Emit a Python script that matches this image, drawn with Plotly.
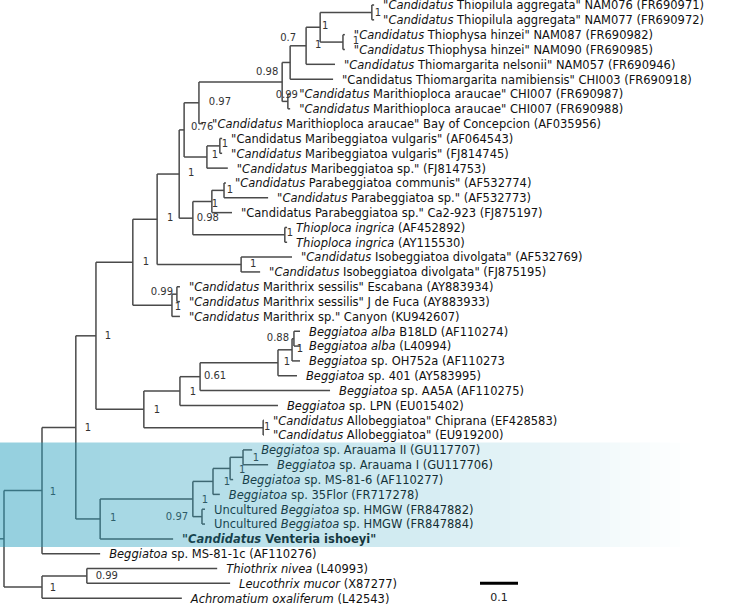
import plotly.graph_objects as go

# ---- tip labels, top to bottom ----
TIP_LABELS = [
    '"<i>Candidatus</i> Thiopilula aggregata" NAM076 (FR690971)',
    '"<i>Candidatus</i> Thiopilula aggregata" NAM077 (FR690972)',
    '"<i>Candidatus</i> Thiophysa hinzei" NAM087 (FR690982)',
    '"<i>Candidatus</i> Thiophysa hinzei" NAM090 (FR690985)',
    '"<i>Candidatus</i> Thiomargarita nelsonii" NAM057 (FR690946)',
    '"Candidatus Thiomargarita namibiensis" CHI003 (FR690918)',
    '"<i>Candidatus</i> Marithioploca araucae" CHI007 (FR690987)',
    '"<i>Candidatus</i> Marithioploca araucae" CHI007 (FR690988)',
    '"<i>Candidatus</i> Marithioploca araucae" Bay of Concepcion (AF035956)',
    '"Candidatus Maribeggiatoa vulgaris" (AF064543)',
    '"<i>Candidatus</i> Maribeggiatoa vulgaris" (FJ814745)',
    '"<i>Candidatus</i> Maribeggiatoa sp." (FJ814753)',
    '"<i>Candidatus</i> Parabeggiatoa communis" (AF532774)',
    '"<i>Candidatus</i> Parabeggiatoa sp." (AF532773)',
    '"Candidatus Parabeggiatoa sp." Ca2-923 (FJ875197)',
    '<i>Thioploca ingrica</i> (AF452892)',
    '<i>Thioploca ingrica</i> (AY115530)',
    '"<i>Candidatus</i> Isobeggiatoa divolgata" (AF532769)',
    '"<i>Candidatus</i> Isobeggiatoa divolgata" (FJ875195)',
    '"<i>Candidatus</i> Marithrix sessilis" Escabana (AY883934)',
    '"<i>Candidatus</i> Marithrix sessilis" J de Fuca (AY883933)',
    '"<i>Candidatus</i> Marithrix sp." Canyon (KU942607)',
    '<i>Beggiatoa alba</i> B18LD (AF110274)',
    '<i>Beggiatoa alba</i> (L40994)',
    '<i>Beggiatoa</i> sp. OH752a (AF110273',
    '<i>Beggiatoa</i> sp. 401 (AY583995)',
    '<i>Beggiatoa</i> sp. AA5A (AF110275)',
    '<i>Beggiatoa</i> sp. LPN (EU015402)',
    '"<i>Candidatus</i> Allobeggiatoa" Chiprana (EF428583)',
    '"<i>Candidatus</i> Allobeggiatoa" (EU919200)',
    '<i>Beggiatoa</i> sp. Arauama II (GU117707)',
    '<i>Beggiatoa</i> sp. Arauama I (GU117706)',
    '<i>Beggiatoa</i> sp. MS-81-6 (AF110277)',
    '<i>Beggiatoa</i> sp. 35Flor (FR717278)',
    'Uncultured <i>Beggiatoa</i> sp. HMGW (FR847882)',
    'Uncultured <i>Beggiatoa</i> sp. HMGW (FR847884)',
    '<b>"<i>Candidatus</i> Venteria ishoeyi"</b>',
    '<i>Beggiatoa</i> sp. MS-81-1c (AF110276)',
    '<i>Thiothrix nivea</i> (L40993)',
    '<i>Leucothrix mucor</i> (X87277)',
    '<i>Achromatium oxaliferum</i> (L42543)',
]

# distance of each tip from the root (substitutions/site)
TIP_X = [
    0.974, 0.974, 0.897, 0.897, 0.871, 0.866, 0.753, 0.753, 0.524, 0.574,
    0.574, 0.589, 0.584, 0.695, 0.600, 0.745, 0.745, 0.758, 0.674, 0.463,
    0.463, 0.463, 0.779, 0.779, 0.779, 0.771, 0.858, 0.721, 0.684, 0.684,
    0.653, 0.695, 0.603, 0.568, 0.529, 0.529, 0.445, 0.253, 0.561, 0.595,
    0.468,
]

# topology: internal node -> children (ints are tip indices)
TREE = {
    "root": ["D", "O"],
    "O": ["ThLeu", 40], "ThLeu": [38, 39],
    "D": ["E", 37], "E": ["F", "G"],
    "G": ["H", 36], "H": ["N", "HMGW"], "HMGW": [34, 35],
    "N": ["M", 33], "M": ["L", 32], "L": [30, 31],
    "F": ["P", "Q"], "Q": ["R", "Allo"], "Allo": [28, 29],
    "R": ["S", 27], "S": ["T", 26], "T": ["U", 25], "U": ["W", 24], "W": [22, 23],
    "P": ["X", "Mtx"], "Mtx": ["Mtx2", 21], "Mtx2": [19, 20],
    "X": ["Y", "Iso"], "Iso": [17, 18],
    "Y": ["Z", "Para"], "Para": ["Pb", "Tpl"], "Tpl": [15, 16],
    "Pb": ["Pb2", 14], "Pb2": [12, 13],
    "Z": ["K", "Mb"], "Mb": ["Mb2", 11], "Mb2": [9, 10],
    "K": ["C", 8], "C": ["B", "Mtp"], "Mtp": [6, 7],
    "B": ["A", 5], "A": ["AA", 4], "AA": ["Tpil", "Tphy"],
    "Tpil": [0, 1], "Tphy": [2, 3],
}

# distance of each internal node from the root
NODE_X = {
    "root": 0.0, "D": 0.100, "O": 0.100, "ThLeu": 0.218, "E": 0.189,
    "G": 0.253, "H": 0.497, "HMGW": 0.521, "N": 0.550, "M": 0.595, "L": 0.629,
    "F": 0.242, "Q": 0.368, "Allo": 0.682, "R": 0.463, "S": 0.516,
    "T": 0.721, "U": 0.758, "W": 0.763,
    "P": 0.339, "Mtx": 0.442, "Mtx2": 0.455, "X": 0.403, "Iso": 0.624,
    "Y": 0.461, "Para": 0.497, "Tpl": 0.739, "Pb": 0.547, "Pb2": 0.579,
    "Z": 0.474, "Mb": 0.534, "Mb2": 0.568, "K": 0.513, "C": 0.732,
    "Mtp": 0.747, "B": 0.753, "A": 0.795, "AA": 0.832, "Tpil": 0.968, "Tphy": 0.892,
}

# posterior support values
SUPPORT = {
    "Tpil": "1", "AA": "1", "Tphy": "1", "A": "1", "B": "0.7", "C": "0.98",
    "Mtp": "0.99", "K": "0.97", "Z": "0.76", "Mb2": "1", "Mb": "1", "Y": "1",
    "Pb2": "1", "Pb": "1", "Para": "0.98", "Tpl": "1", "X": "1", "Iso": "1",
    "P": "1", "Mtx2": "0.99", "Mtx": "1", "F": "1", "W": "0.88", "U": "1",
    "T": "1", "S": "0.61", "R": "1", "Q": "1", "Allo": "1", "L": "1", "M": "1",
    "N": "1", "H": "1", "HMGW": "0.97", "G": "1", "E": "1", "D": "1",
    "ThLeu": "0.99", "O": "1",
}

SCALE_LEN = 0.1

# ---- layout helpers (pixels -> data units) ----
W, H = 750, 605
PX_PER_UNIT = 380.0
ROW_PX = 14.83
X_LEFT = -4 / PX_PER_UNIT

# nudges of support labels from their node, in pixels
NUDGE = {
    "Tpil": (6, 1.5), "AA": (5, -1), "Tphy": (13, -1), "A": (12, 0),
    "B": (-2, -24), "C": (-15, -9), "Mtp": (-1, -6), "K": (21, 0),
    "Z": (18, -2), "Mb2": (5, -1), "Mb": (8, -2), "Y": (12, -1),
    "Pb2": (6, 0), "Pb": (3, 2.5), "Para": (15, 0), "Tpl": (5, -1),
    "X": (13, -1), "Iso": (12, 0), "P": (13, 0), "Mtx2": (-15, -2),
    "Mtx": (6, 2), "F": (12, 1), "W": (-16, 0), "U": (8, 0), "T": (9, 0),
    "S": (15, 0), "R": (13, 1), "Q": (13, 1), "Allo": (4, 0), "L": (13, 1),
    "M": (12, 2), "N": (14, 1), "H": (12, 1), "HMGW": (-25, 1), "G": (13, 0),
    "E": (12, 1), "D": (11, 1.5), "ThLeu": (20, 1), "O": (11, 1),
}

node_y = {}


def get_y(n):
    if isinstance(n, int):
        return float(n)
    if n not in node_y:
        ch = TREE[n]
        node_y[n] = (get_y(ch[0]) + get_y(ch[-1])) / 2
    return node_y[n]


def get_x(n):
    return TIP_X[n] if isinstance(n, int) else NODE_X[n]


# branches as one line trace
xs, ys = [], []
for n, ch in TREE.items():
    nx = NODE_X[n]
    cy = [get_y(c) for c in ch]
    xs += [nx, nx, None]
    ys += [min(cy), max(cy), None]
    for c in ch:
        xs += [nx, get_x(c), None]
        ys += [get_y(c), get_y(c), None]
ry = get_y("root")
xs += [X_LEFT, 0.0, None]
ys += [ry, ry, None]

fig = go.Figure()
fig.add_trace(go.Scatter(
    x=xs, y=ys, mode="lines",
    line=dict(color="#4a4a4a", width=1.5),
    hoverinfo="skip",
))

# tip labels (text sits ~1.5 px lower than the branch, as in the original)
fig.add_trace(go.Scatter(
    x=[tx + 9 / PX_PER_UNIT for tx in TIP_X],
    y=[i + 1.5 / ROW_PX for i in range(len(TIP_LABELS))],
    text=TIP_LABELS, mode="text", textposition="middle right",
    textfont=dict(family="DejaVu Sans", size=11.5, color="#111111"),
    hoverinfo="skip",
))

# support values
sx, sy, st = [], [], []
for n, s in SUPPORT.items():
    dx, dy = NUDGE[n]
    sx.append(NODE_X[n] + dx / PX_PER_UNIT)
    sy.append(get_y(n) + dy / ROW_PX)
    st.append(s)
fig.add_trace(go.Scatter(
    x=sx, y=sy, text=st, mode="text", textposition="middle center",
    textfont=dict(family="DejaVu Sans", size=10, color="#333333"),
    hoverinfo="skip",
))

# scale bar
sb_x0 = X_LEFT + 480 / PX_PER_UNIT
fig.add_trace(go.Scatter(
    x=[sb_x0, sb_x0 + SCALE_LEN], y=[39, 39], mode="lines",
    line=dict(color="black", width=3), hoverinfo="skip",
))
fig.add_trace(go.Scatter(
    x=[sb_x0 + SCALE_LEN / 2], y=[40], text=[str(SCALE_LEN)],
    mode="text", textposition="middle center",
    textfont=dict(family="DejaVu Sans", size=11, color="#222222"),
    hoverinfo="skip",
))

# highlighted Venteria clade: fading teal band drawn over the tree
band_top, band_bot = 29.5, 36.55
n_strips = 75
fade_end = 690.0
shapes = []
for k in range(n_strips):
    px0 = k * 10
    a = max(0.0, 0.5 * (1 - (px0 + 5) / fade_end))
    if a <= 0:
        continue
    shapes.append(dict(
        type="rect", xref="paper", yref="y",
        x0=px0 / W, x1=(px0 + 10) / W, y0=band_top, y1=band_bot,
        fillcolor="rgb(40,160,190)", opacity=a, line=dict(width=0),
        layer="above",
    ))

fig.update_layout(
    width=W, height=H,
    margin=dict(l=0, r=0, t=0, b=0),
    paper_bgcolor="white", plot_bgcolor="white",
    showlegend=False,
    shapes=shapes,
    xaxis=dict(range=[X_LEFT, X_LEFT + W / PX_PER_UNIT], visible=False, fixedrange=True),
    yaxis=dict(range=[(H - 5) / ROW_PX, -5 / ROW_PX], visible=False, fixedrange=True),
)

# drop the browser's default page margin so the figure sits at the top-left corner
fig.write_html("out.html", config={"displayModeBar": False},
               post_script="document.body.style.margin = '0';")
